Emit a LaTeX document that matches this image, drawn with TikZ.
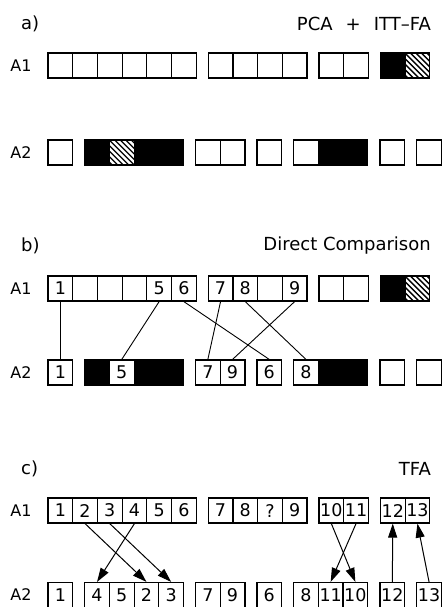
\documentclass[tikz,border=0pt]{standalone}
\usepackage{fontspec}
\setmainfont{DejaVu Sans}
\usetikzlibrary{arrows.meta}
\newcommand\numfont{\fontsize{17.5}{17.5}\selectfont}
\newcommand\rowfont{\fontsize{16}{16}\selectfont}
\newcommand\headfont{\fontsize{18}{18}\selectfont}
% one row of cells: #1 name prefix, #2 y, #3 list of x/text/style
\newcommand\cellrow[3]{%
  \foreach \x/\t/\s [count=\i] in {#3} {\node[\s] (#1\i) at (\x,#2) {\t};}%
}
\begin{document}
\begin{tikzpicture}[x=1pt,y=-1pt,
  cell/.style={draw, line width=1.2pt, minimum width=24.7pt, minimum height=25pt,
    inner sep=0pt, font=\numfont},
  blk/.style={cell, fill=black},
  hatch/.style={cell, path picture={
    \foreach \k in {-6,...,6}
      \draw[line width=1.4pt]
        ([xshift=\k*5.5pt-16pt,yshift=16pt]path picture bounding box.center) --
        ([xshift=\k*5.5pt+16pt,yshift=-16pt]path picture bounding box.center);}},
  link/.style={line width=0.9pt},
  arr/.style={line width=1pt, -{Triangle[length=14pt,width=9pt]}},
  rowlabel/.style={font=\rowfont, inner sep=0pt},
  head/.style={font=\headfont, inner sep=0pt, anchor=east},
  tag/.style={font=\headfont, inner sep=0pt, anchor=west}]
\useasboundingbox (0,0) rectangle (443,607);

% ---- a) PCA + ITT-FA
\node[tag] (taga) at (21,24) {a)};
\node[head] (heada) at (431,24) {PCA\hspace{13pt}+\hspace{13pt}ITT--FA};
\node[rowlabel] (la1) at (21,65.5) {A1};
\node[rowlabel] (la2) at (21,152.5) {A2};
\cellrow{aa}{65.5}{60.35//cell, 85.05//cell, 109.75//cell, 134.45//cell, 159.15//cell,
  183.85//cell, 220.55//cell, 245.25//cell, 269.95//cell, 294.65//cell, 331.35//cell,
  356.05//cell, 392.75//blk, 417.45//hatch}
\cellrow{ab}{152.5}{60.35//cell, 97.05//blk, 121.75//hatch, 146.45//blk, 171.15//blk,
  207.85//cell, 232.55//cell, 269.25//cell, 305.95//cell, 330.65//blk, 355.35//blk,
  392.35//cell, 429.05//cell}

% ---- b) Direct Comparison
\node[tag] (tagb) at (21,246) {b)};
\node[head] (headb) at (431,246) {Direct Comparison};
\node[rowlabel] (lb1) at (21,288.5) {A1};
\node[rowlabel] (lb2) at (21,372.5) {A2};
\cellrow{ba}{288.5}{60.35/1/cell, 85.05//cell, 109.75//cell, 134.45//cell, 159.15/5/cell,
  183.85/6/cell, 220.55/7/cell, 245.25/8/cell, 269.95//cell, 294.65/9/cell, 331.35//cell,
  356.05//cell, 392.75//blk, 417.45//hatch}
\cellrow{bb}{372.5}{60.35/1/cell, 97.05//blk, 121.75/5/cell, 146.45//blk, 171.15//blk,
  207.85/7/cell, 232.55/9/cell, 269.25/6/cell, 305.95/8/cell, 330.65//blk, 355.35//blk,
  392.35//cell, 429.05//cell}
\draw[link] (ba1.south) -- (bb1.north);
\draw[link] (ba5.south) -- (bb3.north);
\draw[link] (ba6.south) -- (bb8.north);
\draw[link] (ba7.south) -- (bb6.north);
\draw[link] (ba8.south) -- (bb9.north);
\draw[link] (ba10.south) -- (bb7.north);

% ---- c) TFA
\node[tag] (tagc) at (21,469) {c)};
\node[head] (headc) at (431,469) {TFA};
\node[rowlabel] (lc1) at (21,510.5) {A1};
\node[rowlabel] (lc2) at (21,595) {A2};
\cellrow{ca}{510.5}{60.35/1/cell, 85.05/2/cell, 109.75/3/cell, 134.45/4/cell, 159.15/5/cell,
  183.85/6/cell, 220.55/7/cell, 245.25/8/cell, 269.95/?/cell, 294.65/9/cell, 331.35/10/cell,
  356.05/11/cell, 392.75/12/cell, 417.45/13/cell}
\cellrow{cb}{595}{60.35/1/cell, 97.05/4/cell, 121.75/5/cell, 146.45/2/cell, 171.15/3/cell,
  207.85/7/cell, 232.55/9/cell, 269.25/6/cell, 305.95/8/cell, 330.65/11/cell, 355.35/10/cell,
  392.35/12/cell, 429.05/13/cell}
\draw[arr] (ca2.south) -- (cb4.north);
\draw[arr] (ca3.south) -- (cb5.north);
\draw[arr] (ca4.south) -- (cb2.north);
\draw[arr] (ca11.south) -- (cb11.north);
\draw[arr] (ca12.south) -- (cb10.north);
\draw[arr] (cb12.north) -- (ca13.south);
\draw[arr] (cb13.north) -- (ca14.south);
\end{tikzpicture}
\end{document}
